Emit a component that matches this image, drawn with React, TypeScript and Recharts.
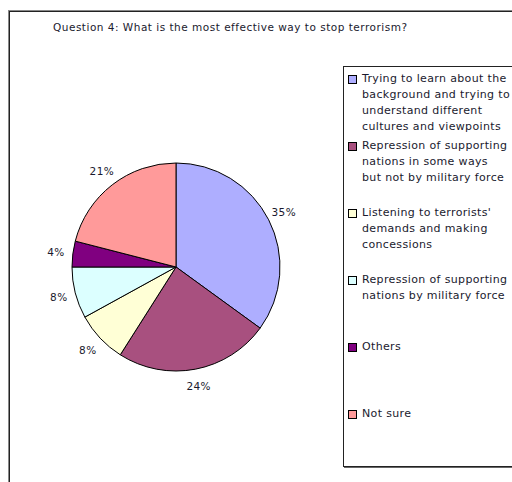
import { PieChart, Pie, Cell, Legend } from 'recharts'

const TITLE = 'Question 4: What is the most effective way to stop terrorism?'

const categories = [
  'Trying to learn about the\nbackground and trying to\nunderstand different\ncultures and viewpoints',
  'Repression of supporting\nnations in some ways\nbut not by military force',
  "Listening to terrorists'\ndemands and making\nconcessions",
  'Repression of supporting\nnations by military force',
  'Others',
  'Not sure',
]
const shares = [35, 24, 8, 8, 4, 21]
const colors = ['#aeaeff', '#a8507f', '#ffffd6', '#dcffff', '#800080', '#ff9a9a']

const data = categories.map((name, i) => ({ name, value: shares[i] }))

const FONT = '"DejaVu Sans", Verdana, sans-serif'
const RAD = Math.PI / 180

function renderLabel(props: any) {
  const { cx, cy, midAngle, outerRadius, value } = props
  const r = outerRadius + 17
  const x = cx + r * Math.cos(-midAngle * RAD)
  const y = cy + r * Math.sin(-midAngle * RAD)
  return (
    <text
      x={x}
      y={y}
      textAnchor="middle"
      dominantBaseline="central"
      fontSize={10.5}
      fontFamily={FONT}
      letterSpacing={0.4}
      fill="#1a1a2e"
    >
      {value}%
    </text>
  )
}

function LegendBox() {
  return (
    <div
      style={{
        width: 200,
        height: 401,
        border: '1px solid #222',
        boxShadow: '1px 1px 0 #666',
        boxSizing: 'border-box',
        paddingTop: 4,
        fontFamily: FONT,
        fontSize: 11,
        letterSpacing: 0.35,
        color: '#1a1a2e',
      }}
    >
      {data.map((d, i) => (
        <div key={i} style={{ height: 67, display: 'flex', alignItems: 'flex-start' }}>
          <span
            style={{
              width: 9,
              height: 9,
              marginLeft: 4,
              marginTop: 4,
              background: colors[i],
              border: '1px solid #000',
              boxSizing: 'border-box',
              flexShrink: 0,
            }}
          />
          <span style={{ marginLeft: 5, whiteSpace: 'pre', lineHeight: '16px' }}>{d.name}</span>
        </div>
      ))}
    </div>
  )
}

export default function App() {
  return (
    <div
      style={{
        position: 'absolute',
        left: 0,
        top: 0,
        width: 512,
        height: 482,
        overflow: 'hidden',
        background: '#fff',
      }}
    >
      {/* outer frame, runs off the right and bottom edges */}
      <div
        style={{
          position: 'absolute',
          left: 9,
          top: 11,
          width: 600,
          height: 600,
          borderLeft: '1px solid #222',
          borderTop: '1px solid #222',
          boxShadow: '-1px -1px 0 #888',
        }}
      />
      <div
        style={{
          position: 'absolute',
          left: 53,
          top: 21,
          fontFamily: FONT,
          fontSize: 10.5,
          letterSpacing: 0.5,
          color: '#1a1a2e',
          whiteSpace: 'nowrap',
        }}
      >
        {TITLE}
      </div>
      <div style={{ position: 'absolute', left: 0, top: 0 }}>
        <PieChart width={512} height={482}>
          <Pie
            data={data}
            dataKey="value"
            nameKey="name"
            cx={171}
            cy={262}
            outerRadius={104}
            startAngle={90}
            endAngle={-270}
            stroke="#000"
            strokeWidth={1}
            label={renderLabel}
            labelLine={false}
            isAnimationActive={false}
          >
            {data.map((d, i) => (
              <Cell key={d.name} fill={colors[i]} />
            ))}
          </Pie>
          <Legend
            layout="vertical"
            align="right"
            verticalAlign="top"
            content={() => <LegendBox />}
            wrapperStyle={{ left: 343, top: 66, width: 200 }}
          />
        </PieChart>
      </div>
    </div>
  )
}
